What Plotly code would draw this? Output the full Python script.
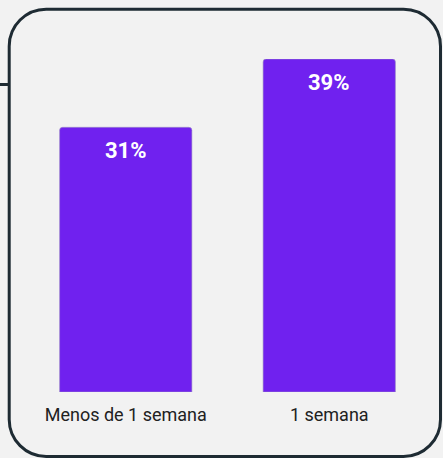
import plotly.graph_objects as go

categories = ["Menos de 1 semana", "1 semana"]
values = [31, 39]
labels = ["31%", "39%"]

W, H = 443, 458
L, R, T, B = 24, 12, 59, 66
PW, PH = W - L - R, H - T - B

def px(x):
    return (x - L) / PW

def py(y):
    return (H - B - y) / PH

fig = go.Figure()
fig.add_trace(go.Bar(
    x=categories, y=values,
    marker=dict(color="#7021EF", line=dict(color="#9a8cc4", width=0.6)),
    width=0.65, hoverinfo="skip",
))

for c, v, t in zip(categories, values, labels):
    fig.add_annotation(x=c, y=v, text=t, showarrow=False, yanchor="middle",
                       yshift=-23, font=dict(family="Roboto", size=22, color="white", weight="bold"))

# rounded border
x0, y0, x1, y1, r = 9.2, 9.2, 440.5, 456.5, 37
k = 0.5523 * r
pts = [
    f"M{px(x0 + r)},{py(y0)}",
    f"L{px(x1 - r)},{py(y0)}",
    f"C{px(x1 - r + k)},{py(y0)} {px(x1)},{py(y0 + r - k)} {px(x1)},{py(y0 + r)}",
    f"L{px(x1)},{py(y1 - r)}",
    f"C{px(x1)},{py(y1 - r + k)} {px(x1 - r + k)},{py(y1)} {px(x1 - r)},{py(y1)}",
    f"L{px(x0 + r)},{py(y1)}",
    f"C{px(x0 + r - k)},{py(y1)} {px(x0)},{py(y1 - r + k)} {px(x0)},{py(y1 - r)}",
    f"L{px(x0)},{py(y0 + r)}",
    f"C{px(x0)},{py(y0 + r - k)} {px(x0 + r - k)},{py(y0)} {px(x0 + r)},{py(y0)}",
    "Z",
]
fig.add_shape(type="path", path=" ".join(pts), xref="paper", yref="paper",
              line=dict(color="#1e2b33", width=3), fillcolor="rgba(0,0,0,0)", layer="above")
fig.add_shape(type="line", xref="paper", yref="paper", x0=px(0), x1=px(9), y0=py(84.5), y1=py(84.5),
              line=dict(color="#1e2b33", width=3), layer="above")

fig.update_layout(
    width=W, height=H,
    margin=dict(l=L, r=R, t=T, b=B, pad=0),
    paper_bgcolor="#f2f2f2", plot_bgcolor="#f2f2f2",
    showlegend=False,
    barcornerradius=3,
    xaxis=dict(showgrid=False, zeroline=False, showline=False, ticks="",
               ticklabelstandoff=10,
               tickfont=dict(family="Roboto", size=18, color="#212121")),
    yaxis=dict(range=[0, 39], showgrid=False, zeroline=False, showline=False,
               showticklabels=False, ticks=""),
)
fig.write_html("out.html", config={"displayModeBar": False},
               post_script="document.body.style.margin='0';document.body.style.background='#f2f2f2';")
